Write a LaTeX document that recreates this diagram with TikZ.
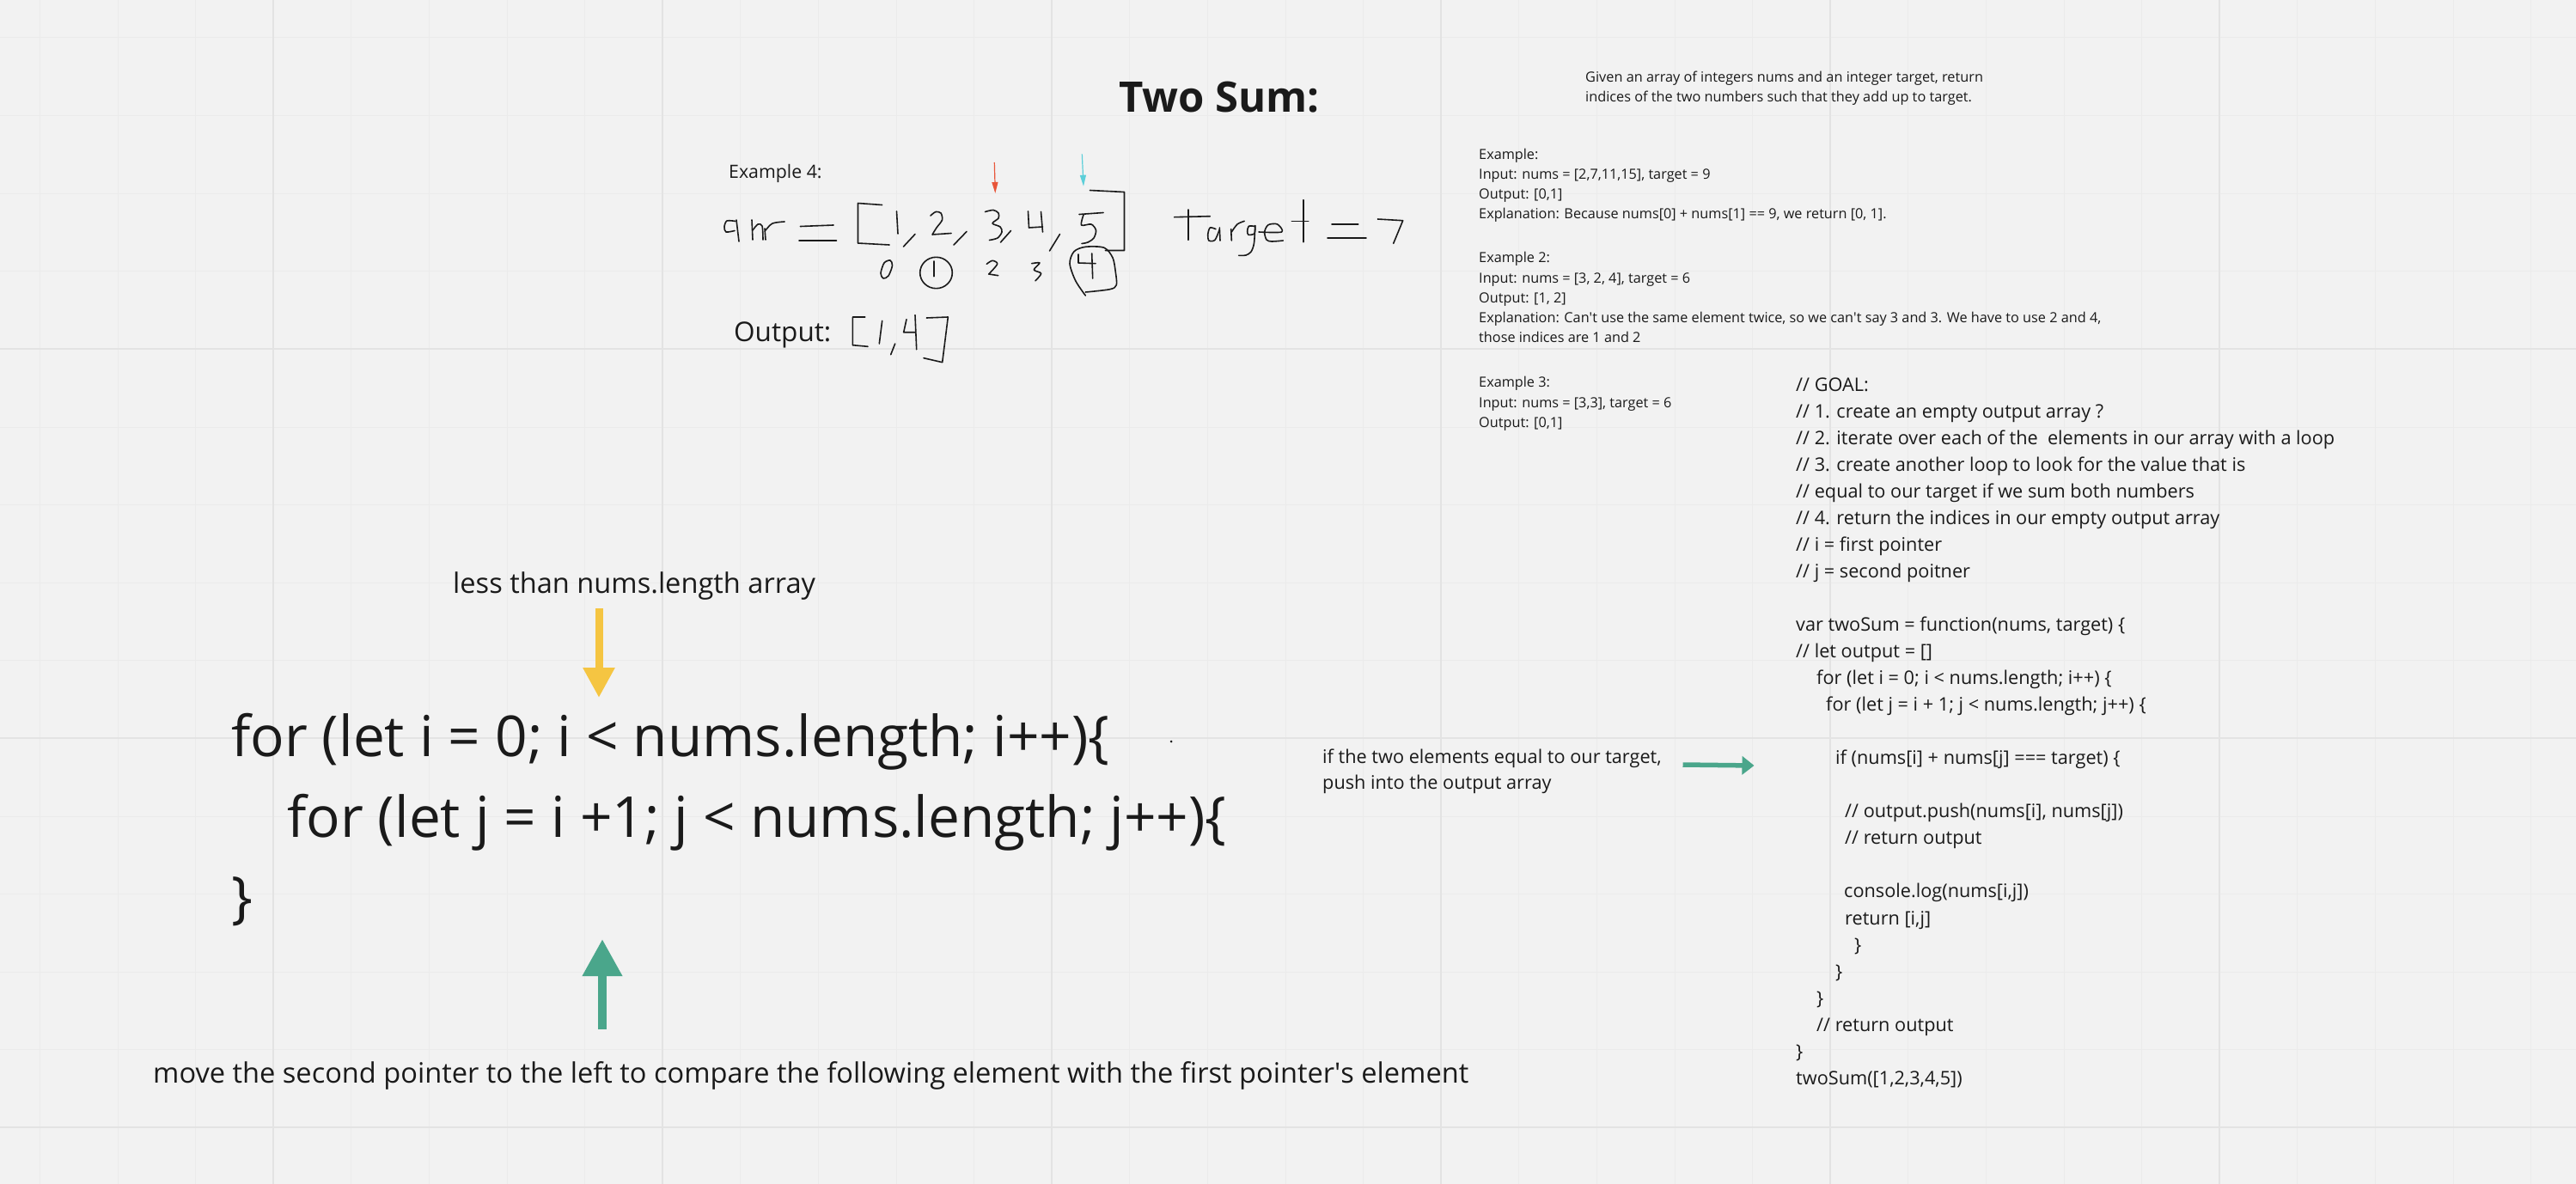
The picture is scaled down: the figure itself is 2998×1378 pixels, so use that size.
\documentclass[tikz,border=0pt]{standalone}
\usepackage{fontspec}
\setmainfont{Open Sans}
\usetikzlibrary{arrows.meta}

\definecolor{board}{HTML}{F2F2F2}
\definecolor{gridfine}{HTML}{EBEBEB}
\definecolor{gridbold}{HTML}{E3E3E3}
\definecolor{inkc}{HTML}{1A1A1A}
\definecolor{sunny}{HTML}{F5C542}
\definecolor{mirogreen}{HTML}{4AA68B}
\definecolor{pointerred}{HTML}{E8563A}
\definecolor{pointercyan}{HTML}{5CCFD9}

\begin{document}
\begin{tikzpicture}[
			x=1pt, y=-1pt,
			note/.style={anchor=base west, inner sep=0pt, align=left, text=inkc, font=\fontsize{16.25}{23.3}\selectfont},
			codeline/.style={anchor=base west, inner sep=0pt, align=left, text=inkc, font=\fontsize{21.7}{31.05}\selectfont},
			hint/.style={anchor=base west, inner sep=0pt, text=inkc, font=\fontsize{32.6}{40}\selectfont},
			bigcode/.style={anchor=base west, inner sep=0pt, text=inkc, font=\fontsize{65.7}{80}\selectfont},
			ink/.style={draw=inkc, line width=1.6pt, line cap=round, line join=round},
			pointer/.style={line width=1.2pt, -{Triangle[length=13pt, width=7pt]}},
			yarrow/.style={draw=sunny, line width=9pt, -{Triangle[length=35pt, width=35pt]}},
			garrow/.style={draw=mirogreen, line width=10pt, -{Triangle[length=43pt, width=44pt]}},
			sidearrow/.style={draw=mirogreen, line width=5.5pt, -{Triangle[length=14pt, width=21pt]}}
			]
			
			% board and grid
			\useasboundingbox (0,0) rectangle (2998,1378);
			\fill[board] (0,0) rectangle (2998,1378);
			\foreach \k in {0,...,32} \draw[gridfine, line width=1pt] ({46.5+90.6*\k},0) -- ++(0,1378);
			\foreach \k in {0,...,14} \draw[gridfine, line width=1pt] (0,{44+90.6*\k}) -- ++(2998,0);
			\foreach \k in {3,8,13,18,23,28} \draw[gridbold, line width=2pt] ({46.5+90.6*\k},0) -- ++(0,1378);
			\foreach \k in {4,9,14} \draw[gridbold, line width=2pt] (0,{44+90.6*\k}) -- ++(2998,0);
			
			% problem statement (multi-line nodes sit on their last line)
			\node[anchor=base west, inner sep=0pt, text=inkc, font=\bfseries\fontsize{49}{58}\selectfont] (title) at (1302,131) {Two Sum:};
			\node[note, font=\fontsize{16.3}{22.7}\selectfont] (prompt) at (1845,118.7) {Given an array of integers nums and an integer target, return\\indices of the two numbers such that they add up to target.};
			\node[note] (ex1) at (1721,254.9) {Example:\\Input: nums = [2,7,11,15], target = 9\\Output: [0,1]\\Explanation: Because nums[0] + nums[1] == 9, we return [0, 1].};
			\node[note] (ex2) at (1721,398.9) {Example 2:\\Input: nums = [3, 2, 4], target = 6\\Output: [1, 2]\\Explanation: Can\textquotesingle t use the same element twice, so we can\textquotesingle t say 3 and 3. We have to use 2 and 4,\\those indices are 1 and 2};
			\node[note] (ex3) at (1721,497.3) {Example 3:\\Input: nums = [3,3], target = 6\\Output: [0,1]};
			
			% worked example
			\node[anchor=base west, inner sep=0pt, text=inkc, font=\fontsize{21.3}{28}\selectfont] (ex4) at (848,207.7) {Example 4:};
			\node[anchor=base west, inner sep=0pt, text=inkc, font=\fontsize{31.5}{40}\selectfont] (outlabel) at (854,397.7) {Output:};
			
			% arr = [1,2,3,4,5]
			\draw[ink] plot[smooth] coordinates {(856,257.5) (846,257) (843,264) (845,270) (855,268.5)};
			\draw[ink] (857,256) -- (860,281);
			\draw[ink] (875,256) -- (876,279);
			\draw[ink] plot[smooth] coordinates {(876,268) (882,261) (887,263) (888,279)};
			\draw[ink] (890,266) -- (891,279);
			\draw[ink] plot[smooth] coordinates {(891,268) (899,260) (913,258)};
			\draw[ink] (931.5,263.5) -- (970,262);
			\draw[ink] (930,280) -- (973.5,280);
			\draw[ink] (1026.5,238.5) -- (998.5,236.5) -- (998.5,283) -- (1035,285);
			\draw[ink] (1043.5,246) -- (1045,272);
			\draw[ink] (1065,272.5) -- (1051.5,287);
			\draw[ink] plot[smooth] coordinates {(1083,251) (1089,246.5) (1095,248) (1096.5,256) (1090,265) (1085,273)} -- (1107,271.5);
			\draw[ink] (1125,269.5) -- (1110,285);
			\draw[ink] plot[smooth] coordinates {(1146.5,246.5) (1156,244.5) (1162,248) (1162,254) (1155,260) (1164,264) (1166,270) (1161,277) (1151.5,279.5)};
			\draw[ink] (1176.5,268.5) -- (1164.5,282);
			\draw[ink] (1196.5,246) -- (1197.5,265) -- (1213.5,264);
			\draw[ink] (1211.5,246.5) -- (1213.5,270);
			\draw[ink] (1233.5,272.5) -- (1221.5,292);
			\draw[ink] (1256,249.5) -- (1284,247.5);
			\draw[ink] plot[smooth] coordinates {(1261,250) (1258.5,262) (1270,261) (1275.5,268) (1273,277) (1266,282) (1259,283.5)};
			\draw[ink] (1268.5,221.5) -- (1308.5,223.5) -- (1308.5,291.5) -- (1286.5,291.5);
			
			% indices 0..4
			\draw[ink] plot[smooth cycle] coordinates {(1036,303) (1038.5,309) (1034,321) (1028,324) (1025,318) (1029,306)};
			\draw[ink] (1089.5,317.5) ellipse [x radius=18.8, y radius=18.2];
			\draw[ink] (1086.7,304) -- (1086.7,321.7);
			\draw[ink] plot[smooth] coordinates {(1148.3,307.3) (1155,303.3) (1160.7,307.3) (1150.7,319)} -- (1161.7,320.7);
			\draw[ink] plot[smooth] coordinates {(1200.7,306.7) (1210,306) (1203.3,314) (1211.7,318.3) (1205,326.7)};
			\draw[ink] plot[smooth] coordinates {(1263.3,344) (1251.7,326.7) (1245,306.7) (1250,292.7) (1263.3,287.3) (1285,288.3) (1295,300) (1298.3,316.7) (1299.3,331.7) (1291.7,336.7) (1263.3,340)};
			\draw[ink] (1255,296) -- (1255,306) -- (1275,306.7);
			\draw[ink] (1270.7,295) -- (1271.7,324);
			
			% i and j pointers
			\coordinate (itail) at (1157.3,189);
			\coordinate (itip) at (1158.3,225);
			\coordinate (jtail) at (1259.3,179.3);
			\coordinate (jtip) at (1261,216.7);
			\draw[pointer, pointerred] (itail) -- (itip);
			\draw[pointer, pointercyan] (jtail) -- (jtip);
			
			% target = 7
			\draw[ink] (1366.7,252.7) -- (1408.3,251.7);
			\draw[ink] (1382.7,244) -- (1382.7,279.3);
			\draw[ink] plot[smooth] coordinates {(1415,266.7) (1408.3,265) (1405.7,273) (1407,280) (1414,279.3) (1419.3,267)};
			\draw[ink] (1419.3,265) -- (1420,280);
			\draw[ink] (1432.7,266.7) -- (1433.3,280);
			\draw[ink] plot[smooth] coordinates {(1433.3,270) (1440,261) (1448.3,257.3)};
			\draw[ink] plot[smooth] coordinates {(1460,263.3) (1453.3,263.3) (1451.7,269) (1453,273.3) (1460,271.7) (1460.7,262.7)};
			\draw[ink] plot[smooth] coordinates {(1460.7,262.7) (1459.5,283) (1456,293) (1450,297) (1441.7,297.3)};
			\draw[ink] plot[smooth] coordinates {(1465,270) (1491.7,270) (1486.7,261) (1476,261.7) (1471.7,270) (1474,279) (1480,281) (1493.3,280)};
			\draw[ink] (1516.7,232.7) -- (1516.7,281.7);
			\draw[ink] (1503.3,257.3) -- (1522.7,257.3);
			\draw[ink] (1550,260.7) -- (1580.7,260.7);
			\draw[ink] (1545,276.7) -- (1590,276.7);
			\draw[ink] (1603.3,255) -- (1632.7,256.7) -- (1621.7,283.3);
			
			% Output: [1,4]
			\draw[ink] (1006.7,369) -- (992.3,369) -- (992.3,401.7) -- (1010,403.3);
			\draw[ink] (1026.7,373.3) -- (1023.3,400);
			\draw[ink] (1041.7,400) -- (1036.7,412.7);
			\draw[ink] (1055,371.7) -- (1051.7,386.7) -- (1065,386.7);
			\draw[ink] (1065,366.7) -- (1066.7,406.7);
			\draw[ink] (1078.3,370) -- (1103.3,369) -- (1096.7,421.7) -- (1075,416.7);
			
			% nested loops, large
			\node[hint] (less) at (527,690) {less than nums.length array};
			\node[bigcode] (fori) at (269,880.7) {for (let i = 0; i < nums.length; i++)\{};
			\node[bigcode] (forj) at (334,974) {for (let j = i +1; j < nums.length; j++)\{};
			\node[bigcode] (closing) at (269,1067.5) {\}};
			\node[hint] (move) at (178,1260) {move the second pointer to the left to compare the following element with the first pointer\textquotesingle s element};
			\fill[inkc] (1363,863) circle (1.5);
			
			\coordinate (ytail) at (697,708);
			\coordinate (ytip) at (697,812);
			\draw[yarrow] (ytail) -- (ytip);
			\coordinate (gtail) at (701,1198);
			\coordinate (gtip) at (701,1093);
			\draw[garrow] (gtail) -- (gtip);
			
			% annotation and solution
			\node[anchor=base west, inner sep=0pt, align=left, text=inkc, font=\fontsize{21.7}{30}\selectfont] (pushnote) at (1539,918) {if the two elements equal to our target,\\push into the output array};
			\coordinate (stail) at (1958.5,890);
			\coordinate (stip) at (2041.5,891);
			\draw[sidearrow] (stail) -- (stip);
			
			\node[codeline] (solution) at (2090,1262.3) {// GOAL:\\
				// 1. create an empty output array ?\\
				// 2. iterate over each of the\ \ elements in our array with a loop\\
				// 3. create another loop to look for the value that is\\
				// equal to our target if we sum both numbers\\
				// 4. return the indices in our empty output array\\
				// i = first pointer\\
				// j = second poitner\\[31.05pt]
				var twoSum = function(nums, target) \{\\
				// let output = []\\
				\hspace*{24pt}for (let i = 0; i < nums.length; i++) \{\\
				\hspace*{35pt}for (let j = i + 1; j < nums.length; j++) \{\\[31.05pt]
				\hspace*{46pt}if (nums[i] + nums[j] === target) \{\\[31.05pt]
				\hspace*{57pt}// output.push(nums[i], nums[j])\\
				\hspace*{57pt}// return output\\[31.05pt]
				\hspace*{56pt}console.log(nums[i,j])\\
				\hspace*{57pt}return [i,j]\\
				\hspace*{68pt}\}\\
				\hspace*{46pt}\}\\
				\hspace*{24pt}\}\\
				\hspace*{24pt}// return output\\
				\}\\
				twoSum([1,2,3,4,5])};
		\end{tikzpicture}
\end{document}
